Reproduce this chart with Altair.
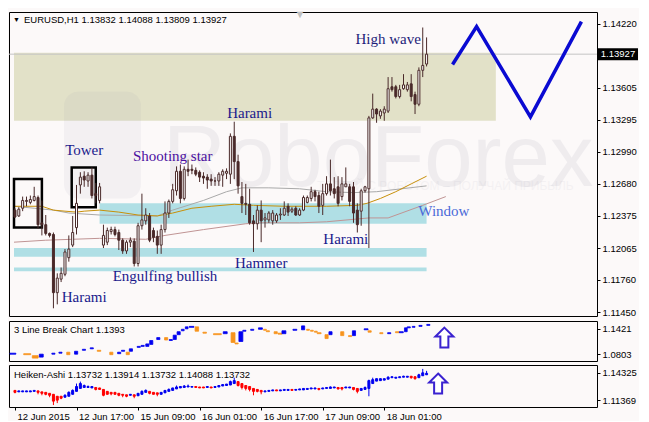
import json
import altair as alt
import pandas as pd

# ---------------- data ----------------
bar_index = list(range(108))

opens = [
    1.12429, 1.12373, 1.12447, 1.12513, 1.12503, 1.12522, 1.12550, 1.12307, 1.12289, 1.12205,
    1.12195, 1.11636, 1.11766, 1.11813, 1.11972, 1.12093, 1.12261, 1.12671, 1.12755, 1.12709,
    1.12765, 1.12587, 1.12522, 1.12093, 1.12121, 1.12223, 1.12242, 1.12214, 1.12140, 1.12037,
    1.12121, 1.12130, 1.11916, 1.12279, 1.12326, 1.12373, 1.12233, 1.12177, 1.12093, 1.12242,
    1.12401, 1.12513, 1.12615, 1.12802, 1.12541, 1.12821, 1.12821, 1.12811, 1.12793, 1.12755,
    1.12746, 1.12727, 1.12709, 1.12709, 1.12765, 1.12783, 1.12774, 1.13138, 1.12895, 1.12559,
    1.12494, 1.12485, 1.12326, 1.12298, 1.12429, 1.12335, 1.12335, 1.12326, 1.12326, 1.12382,
    1.12382, 1.12466, 1.12419, 1.12447, 1.12382, 1.12429, 1.12503, 1.12541, 1.12606, 1.12569,
    1.12475, 1.12587, 1.12681, 1.12634, 1.12653, 1.12559, 1.12653, 1.12653, 1.12653, 1.12429,
    1.12419, 1.12615, 1.12634, 1.13315, 1.13399, 1.13334, 1.13362, 1.13380, 1.13614, 1.13614,
    1.13520, 1.13595, 1.13586, 1.13642, 1.13539, 1.13446, 1.13772, 1.13832]
highs = [
    1.12447, 1.12457, 1.12559, 1.12559, 1.12569, 1.12653, 1.12569, 1.12522, 1.12382, 1.12214,
    1.12214, 1.11822, 1.11878, 1.12055, 1.12186, 1.12373, 1.12671, 1.12793, 1.12802, 1.12793,
    1.12839, 1.12690, 1.12690, 1.12289, 1.12261, 1.12270, 1.12270, 1.12242, 1.12158, 1.12140,
    1.12167, 1.12158, 1.12307, 1.12587, 1.12447, 1.12401, 1.12261, 1.12233, 1.12289, 1.12513,
    1.12531, 1.12681, 1.12849, 1.12867, 1.12849, 1.12914, 1.12867, 1.12839, 1.12811, 1.12793,
    1.12774, 1.12774, 1.12746, 1.12793, 1.12821, 1.12830, 1.13166, 1.13278, 1.12961, 1.12699,
    1.12681, 1.12634, 1.12382, 1.12475, 1.12522, 1.12401, 1.12419, 1.12429, 1.12401, 1.12447,
    1.12513, 1.12494, 1.12457, 1.12466, 1.12447, 1.12569, 1.12569, 1.12653, 1.12625, 1.12606,
    1.12681, 1.12755, 1.12914, 1.12746, 1.12755, 1.12746, 1.12839, 1.12681, 1.12699, 1.12494,
    1.12634, 1.12662, 1.13334, 1.13548, 1.13408, 1.13399, 1.13427, 1.13707, 1.13707, 1.13632,
    1.13632, 1.13735, 1.13660, 1.13735, 1.13567, 1.13800, 1.14183, 1.14088]
lows = [
    1.12354, 1.12363, 1.12419, 1.12466, 1.12485, 1.12513, 1.12251, 1.12186, 1.12186, 1.12167,
    1.11486, 1.11524, 1.11738, 1.11794, 1.11934, 1.12074, 1.12195, 1.12587, 1.12653, 1.12653,
    1.12541, 1.12494, 1.12494, 1.12065, 1.12093, 1.12195, 1.12177, 1.12046, 1.12009, 1.12009,
    1.12074, 1.11888, 1.11888, 1.12242, 1.12289, 1.12121, 1.12121, 1.12009, 1.12009, 1.12214,
    1.12354, 1.12494, 1.12569, 1.12494, 1.12522, 1.12755, 1.12774, 1.12755, 1.12699, 1.12681,
    1.12634, 1.12662, 1.12662, 1.12662, 1.12653, 1.12727, 1.12681, 1.12727, 1.12587, 1.12401,
    1.12382, 1.12289, 1.12027, 1.12242, 1.12121, 1.12261, 1.12307, 1.12289, 1.12307, 1.12335,
    1.12373, 1.12373, 1.12401, 1.12373, 1.12373, 1.12419, 1.12494, 1.12513, 1.12513, 1.12401,
    1.12382, 1.12569, 1.12569, 1.12541, 1.12466, 1.12522, 1.12653, 1.12466, 1.12307, 1.12214,
    1.12279, 1.12597, 1.12065, 1.13306, 1.13268, 1.13306, 1.13287, 1.13362, 1.13567, 1.13502,
    1.13502, 1.13586, 1.13567, 1.13474, 1.13352, 1.13427, 1.13707, 1.13809]
closes = [
    1.12363, 1.12438, 1.12522, 1.12522, 1.12531, 1.12559, 1.12289, 1.12289, 1.12205, 1.12186,
    1.11636, 1.11776, 1.11822, 1.12027, 1.12055, 1.12214, 1.12494, 1.12746, 1.12718, 1.12765,
    1.12569, 1.12569, 1.12653, 1.12186, 1.12233, 1.12242, 1.12195, 1.12140, 1.12037, 1.12121,
    1.12140, 1.11916, 1.12279, 1.12335, 1.12382, 1.12140, 1.12167, 1.12093, 1.12242, 1.12401,
    1.12513, 1.12625, 1.12802, 1.12541, 1.12821, 1.12802, 1.12811, 1.12774, 1.12746, 1.12737,
    1.12718, 1.12709, 1.12709, 1.12774, 1.12802, 1.12802, 1.13138, 1.12895, 1.12662, 1.12494,
    1.12485, 1.12307, 1.12298, 1.12429, 1.12326, 1.12354, 1.12401, 1.12401, 1.12382, 1.12391,
    1.12447, 1.12410, 1.12438, 1.12382, 1.12429, 1.12550, 1.12550, 1.12606, 1.12559, 1.12466,
    1.12587, 1.12681, 1.12615, 1.12587, 1.12494, 1.12681, 1.12681, 1.12513, 1.12401, 1.12289,
    1.12615, 1.12653, 1.13315, 1.13399, 1.13352, 1.13380, 1.13399, 1.13595, 1.13586, 1.13520,
    1.13586, 1.13632, 1.13632, 1.13520, 1.13446, 1.13772, 1.13819, 1.13927]

# moving averages (vertices)
ma_gold_i = [-0.25, 7, 10, 13, 16, 18, 22, 27, 32, 37, 41, 46, 51, 57, 62, 70, 81, 89, 91.5, 95, 99, 103, 107]
ma_gold_p = [1.12466, 1.12466, 1.12429, 1.12419, 1.12410, 1.12419, 1.12429, 1.12410, 1.12382, 1.12373,
             1.12401, 1.12447, 1.12466, 1.12485, 1.12475, 1.12466, 1.12466, 1.12475, 1.12494, 1.12541,
             1.12606, 1.12681, 1.12755]
ma_gray_i = [-0.25, 5, 10, 14, 22, 37, 41, 49, 55, 59, 66, 74, 81, 88, 94, 107]
ma_gray_p = [1.12466, 1.12447, 1.12429, 1.12401, 1.12382, 1.12373, 1.12429, 1.12522, 1.12606, 1.12643,
             1.12643, 1.12634, 1.12606, 1.12597, 1.12606, 1.12662]
ma_rose_i = [-0.25, 8, 22, 34, 39, 49, 60, 64, 74, 81, 92, 97, 106, 112]
ma_rose_p = [1.12121, 1.12140, 1.12158, 1.12149, 1.12186, 1.12242, 1.12298, 1.12307, 1.12307, 1.12317,
             1.12354, 1.12354, 1.12475, 1.12559]

# zones
zone_x0 = [-0.25, 22, -0.25, -0.25]
zone_x1 = [125, 107, 107, 107]
zone_top = [1.13940, 1.12494, 1.12065, 1.11878]
zone_bot = [1.13287, 1.12298, 1.11981, 1.11841]
zone_col = ["#e2e1c8", "#b0dfe5", "#b0dfe5", "#b0dfe5"]

# "Tower" boxes
box_x0 = [-0.25, 14.75]
box_x1 = [7, 21]
box_top = [1.12727, 1.12839]
box_bot = [1.12261, 1.12457]

# pattern labels
lab_text = ["Tower", "Shooting star", "Harami", "High wave", "Harami",
            "Engulfing bullish", "Hammer", "Harami", "Window"]
lab_i = [18, 41, 61, 97, 18, 39, 64, 86, 111.5]
lab_p = [1.13007, 1.12951, 1.13362, 1.14071, 1.11598, 1.11794, 1.11925, 1.12149, 1.12419]
lab_col = ["#1a1a8c", "#4b0fa0", "#1a1a8c", "#1e1e7a", "#1a1a8c",
           "#1a1a8c", "#1a1a8c", "#1a1a8c", "#4a6ad8"]

# forecast zigzag
zz_i = [113.75, 120, 134, 147.25]
zz_p = [1.13828, 1.14192, 1.13324, 1.14239]

current_price = [1.13927]
main_ticks = [1.14220, 1.13605, 1.13295, 1.12990, 1.12680, 1.12375, 1.12065, 1.11760, 1.11450]
header_text = ["EURUSD,H1  1.13832 1.14088 1.13809 1.13927"]
watermark_text = ["RoboForex", "ТОРГУЙ С РОБОТОМ – ПОЛУЧАЙ ПРИБЫЛЬ"]

# 3 Line Break segments
lb_x0 = [0, 3.5, 5.7, 7.5, 10.7, 12.5, 14.5, 16.5, 18.5, 20.5, 22.3, 25.5, 27.5, 28.5, 29.7, 30.5,
         32.5, 33.5, 34.7, 35.7, 37.5, 39.5, 40.7, 41.7, 42.7, 43.8, 44.8, 45.8, 47.3, 49.3, 52, 54.5,
         56.5, 57.5, 58.5, 59.5, 61.5, 63.5, 64.8, 65.5, 67.5, 68.5, 69.5, 72.3, 74.5, 75.8, 76.8, 77.8,
         78.5, 80.5, 81.5, 84.5, 86.5, 87.5, 90.5, 91.5, 94.5, 96.5, 98.5, 99.5, 100.8, 101.5, 102.8,
         104.5, 106.5]
lb_x1 = [1.5, 5.3, 7.2, 8.5, 11.5, 13.3, 15.3, 17.3, 19.3, 21.3, 23.2, 26.3, 28.3, 29.3, 30.5, 31.3,
         33.3, 34.3, 35.5, 36.5, 38.3, 40.3, 41.5, 42.5, 43.5, 44.5, 45.5, 47, 48.2, 50.2, 54, 55.5,
         57.5, 58.3, 59.5, 60.3, 62.3, 64.5, 65.5, 66.3, 68.3, 69.5, 70.5, 73.3, 75.3, 76.5, 77.5, 78.5,
         79.5, 81.3, 82.3, 85.3, 87.3, 88.3, 91.5, 92.3, 95.3, 97.3, 99.5, 100.5, 101.5, 102.3, 103.5,
         105.3, 107.3]
lb_hi = [1.0827, 1.0815, 1.0767, 1.0803, 1.0827, 1.0851, 1.0851, 1.0874, 1.0922, 1.0958, 1.0898, 1.0851,
         1.0851, 1.0898, 1.0851, 1.0934, 1.0993, 1.1017, 1.1053, 1.1136, 1.1207, 1.1207, 1.1160, 1.1266,
         1.1350, 1.1409, 1.1469, 1.1480, 1.1469, 1.1338, 1.1302, 1.1350, 1.1326, 1.1076, 1.1350, 1.1385,
         1.1409, 1.1445, 1.1409, 1.1373, 1.1350, 1.1314, 1.1373, 1.1409, 1.1492, 1.1409, 1.1385, 1.1362,
         1.1326, 1.1278, 1.1350, 1.1350, 1.1255, 1.1373, 1.1421, 1.1373, 1.1326, 1.1326, 1.1350, 1.1350,
         1.1445, 1.1469, 1.1480, 1.1504, 1.1528]
lb_lo = [1.0803, 1.0791, 1.0708, 1.0732, 1.0803, 1.0827, 1.0791, 1.0803, 1.0898, 1.0934, 1.0874, 1.0791,
         1.0815, 1.0874, 1.0791, 1.0874, 1.0969, 1.0993, 1.0993, 1.1041, 1.1160, 1.1148, 1.1136, 1.1160,
         1.1278, 1.1373, 1.1421, 1.1457, 1.1362, 1.1314, 1.1278, 1.1302, 1.1088, 1.1053, 1.1112, 1.1362,
         1.1385, 1.1409, 1.1385, 1.1350, 1.1302, 1.1290, 1.1302, 1.1385, 1.1397, 1.1385, 1.1362, 1.1338,
         1.1302, 1.1183, 1.1278, 1.1255, 1.1231, 1.1255, 1.1397, 1.1338, 1.1302, 1.1302, 1.1326, 1.1326,
         1.1350, 1.1445, 1.1457, 1.1480, 1.1504]
lb_dir = list("boobbbobbb" "oobbobbbbb" "bobbbbbboo" "oboobbbboo" "oobbbooooo" "boobboobob" "bbbbb")
lb_ticks = [1.1421, 1.0803]

# Heiken-Ashi
ha_top = [
    1.12425, 1.12372, 1.12372, 1.12372, 1.12372, 1.12425, 1.12372, 1.12266, 1.12214, 1.12108,
    1.12002, 1.11791, 1.11791, 1.11897, 1.12214, 1.12425, 1.12847, 1.13164, 1.12953, 1.12847,
    1.12847, 1.12741, 1.12689, 1.12530, 1.12319, 1.12214, 1.12214, 1.12108, 1.12002, 1.11950,
    1.12002, 1.11950, 1.12108, 1.12319, 1.12425, 1.12319, 1.12214, 1.12161, 1.12214, 1.12425,
    1.12530, 1.12689, 1.12794, 1.12847, 1.12900, 1.12900, 1.12847, 1.12847, 1.12794, 1.12794,
    1.12847, 1.12794, 1.12847, 1.12953, 1.13058, 1.13111, 1.13375, 1.13481, 1.13375, 1.13164,
    1.12953, 1.12847, 1.12636, 1.12530, 1.12425, 1.12372, 1.12425, 1.12477, 1.12477, 1.12477,
    1.12530, 1.12530, 1.12530, 1.12530, 1.12583, 1.12636, 1.12636, 1.12689, 1.12689, 1.12636,
    1.12689, 1.12741, 1.12794, 1.12794, 1.12741, 1.12741, 1.12794, 1.12794, 1.12741, 1.12636,
    1.12636, 1.12741, 1.13481, 1.13586, 1.13692, 1.13692, 1.13692, 1.13850, 1.13903, 1.13850,
    1.13903, 1.13955, 1.13955, 1.13955, 1.13903, 1.14114, 1.14325, 1.14272]
ha_bot = [
    1.12214, 1.12266, 1.12266, 1.12266, 1.12266, 1.12319, 1.12214, 1.12108, 1.12002, 1.11897,
    1.11263, 1.11369, 1.11580, 1.11686, 1.11791, 1.12002, 1.12319, 1.12636, 1.12741, 1.12741,
    1.12689, 1.12530, 1.12530, 1.11897, 1.12002, 1.12055, 1.12002, 1.11897, 1.11897, 1.11791,
    1.11897, 1.11791, 1.11844, 1.12002, 1.12214, 1.12108, 1.12002, 1.12002, 1.12002, 1.12161,
    1.12319, 1.12425, 1.12583, 1.12689, 1.12741, 1.12794, 1.12773, 1.12741, 1.12689, 1.12689,
    1.12741, 1.12689, 1.12741, 1.12794, 1.12900, 1.12953, 1.13005, 1.13164, 1.12953, 1.12741,
    1.12636, 1.12530, 1.12319, 1.12319, 1.12266, 1.12266, 1.12319, 1.12372, 1.12372, 1.12372,
    1.12425, 1.12425, 1.12425, 1.12446, 1.12477, 1.12477, 1.12530, 1.12583, 1.12583, 1.12530,
    1.12583, 1.12636, 1.12636, 1.12689, 1.12583, 1.12583, 1.12689, 1.12689, 1.12530, 1.12319,
    1.12425, 1.12530, 1.12636, 1.13164, 1.13428, 1.13481, 1.13533, 1.13639, 1.13797, 1.13744,
    1.13797, 1.13850, 1.13850, 1.13797, 1.13692, 1.13797, 1.14008, 1.14114]
ha_wick_hi = {13: 1.12002, 14: 1.12319, 15: 1.12530, 16: 1.13164, 17: 1.13375, 18: 1.13058, 19: 1.12953,
              33: 1.12425, 34: 1.12530, 40: 1.12636, 42: 1.12953, 44: 1.13005, 45: 1.13058, 56: 1.13481,
              57: 1.13797, 82: 1.12847, 91: 1.12847, 92: 1.13586, 93: 1.13797, 97: 1.13955, 101: 1.14008,
              105: 1.14219, 106: 1.14747, 107: 1.14536}
ha_wick_lo = {0: 1.12108, 6: 1.12002, 7: 1.11897, 8: 1.11897, 9: 1.11686, 10: 1.10841, 11: 1.11052,
              12: 1.11475, 21: 1.12425, 23: 1.11791, 25: 1.11897, 27: 1.11791, 28: 1.11686, 29: 1.11686,
              31: 1.11580, 35: 1.12002, 37: 1.11791, 58: 1.12847, 59: 1.12530, 60: 1.12425, 61: 1.12319,
              62: 1.11897, 63: 1.12214, 64: 1.12002, 79: 1.12425, 84: 1.12530, 85: 1.12425, 88: 1.12425,
              89: 1.12108, 92: 1.11791, 103: 1.13692, 104: 1.13586}
ha_dir = list("r" "bbbbb" "rrrrrrr" "bbbbbbbb" "rrrrrrrrr" "b" "r" "bbb" "rrr" "bbbbbbbbb" "rrr" "b" "r"
              "bbbbbb" "rrrrrrr" "bbb" "r" "bbb" "r" "bbbbbb" "r" "bbbb" "rr" "bb" "rr" "bbbbbbbbbbbbb"
              "rr" "bbb")
ha_ticks = [1.14325, 1.11369]

panel_titles = ["3 Line Break Chart 1.1393",
                "Heiken-Ashi 1.13732 1.13914 1.13732 1.14088 1.13732"]
arrow_i = [111, 110]
arrow_v = [1.1207, 1.13164]

x_ticks = [0, 16, 32, 48, 64, 80, 96]
x_labels = ["12 Jun 2015", "12 Jun 17:00", "15 Jun 09:00", "16 Jun 01:00",
            "16 Jun 17:00", "17 Jun 09:00", "18 Jun 01:00"]

# ---------------- styling ----------------
W = 588
H_MAIN, H_LB, H_HA = 304, 40, 42
UI = "Liberation Sans"
SERIF = "Liberation Serif"
DARK = "#4a2a2a"
BG = "#fcf9f9"
BOX_PATH = "M-1,-0.3 L1,-0.3 L1,0.3 L-1,0.3 Z"
ARROW_PATH = "M0,-1 L0.9,-0.1 L0.4,-0.1 L0.4,1 L-0.4,1 L-0.4,-0.1 L-0.9,-0.1 Z"

XS = alt.Scale(domain=[-0.25, 150], nice=False, zero=False)


def XQ(f, axis=None):
    return alt.X(f"{f}:Q", scale=XS, axis=axis)


def yaxis(values, fmt):
    return alt.Axis(orient="right", values=values, format=fmt, title=None, grid=False,
                    domain=False, tickSize=3, tickColor="black", labelColor="black",
                    labelFont=UI, labelFontSize=9.5, labelPadding=2)


YS_M = alt.Scale(domain=[1.11412, 1.14332], nice=False, zero=False)
YA_M = yaxis(main_ticks, ".5f")


def YM(f):
    return alt.Y(f"{f}:Q", scale=YS_M, axis=YA_M)


# ---------------- main panel ----------------
candles = pd.DataFrame({"i": bar_index, "o": opens, "h": highs, "l": lows, "c": closes})
zones = pd.DataFrame({"x0": zone_x0, "x1": zone_x1, "top": zone_top, "bot": zone_bot, "col": zone_col})
boxes = pd.DataFrame({"x0": box_x0, "x1": box_x1, "top": box_top, "bot": box_bot})
labels = pd.DataFrame({"i": lab_i, "p": lab_p, "t": lab_text, "col": lab_col})
zz = pd.DataFrame({"i": zz_i, "p": zz_p})
cur = pd.DataFrame({"p": current_price, "t": ["%.5f" % v for v in current_price]})
wm = pd.DataFrame({"i": [38.5], "p": [1.12662], "t": [watermark_text[0]]})
wm_logo = pd.DataFrame({"x0": [12.75], "x1": [32.75], "top": [1.13567], "bot": [1.12541]})
wm_sub = pd.DataFrame({"i": [145.25], "p": [1.12620], "t": [watermark_text[1]]})
head = pd.DataFrame({"t": header_text})

zone_layer = alt.Chart(zones).mark_rect().encode(
    x=XQ("x0"), x2="x1:Q", y=YM("top"), y2="bot:Q", color=alt.Color("col:N", scale=None))
logo_layer = alt.Chart(wm_logo).mark_rect(cornerRadius=14, color="#8a8aa0", opacity=0.08).encode(
    x=XQ("x0"), x2="x1:Q", y=YM("top"), y2="bot:Q")
wm_layer = alt.Chart(wm).mark_text(font=UI, fontSize=87, align="left", baseline="alphabetic",
                                   color="#8a8aa0", opacity=0.11, clip=True).encode(
    x=XQ("i"), y=YM("p"), text="t:N")
wm_sub_layer = alt.Chart(wm_sub).mark_text(font=UI, fontSize=12, align="right", baseline="alphabetic",
                                           color="#8a8aa0", opacity=0.07).encode(
    x=XQ("i"), y=YM("p"), text="t:N")
price_line = alt.Chart(cur).mark_rule(color="#c4c4c4", strokeWidth=1).encode(y=YM("p"))


def ma_layer(xi, yp, color):
    return alt.Chart(pd.DataFrame({"i": xi, "p": yp})).mark_line(color=color, strokeWidth=1).encode(
        x=XQ("i"), y=YM("p"))


ma_rose = ma_layer(ma_rose_i, ma_rose_p, "#c09494")
ma_gray = ma_layer(ma_gray_i, ma_gray_p, "#a9a9a9")
ma_gold = ma_layer(ma_gold_i, ma_gold_p, "#c8900a")

box_layer = alt.Chart(boxes).mark_rect(fillOpacity=0, stroke="black", strokeWidth=2.5).encode(
    x=XQ("x0"), x2="x1:Q", y=YM("top"), y2="bot:Q")
wick_layer = alt.Chart(candles).mark_rule(color=DARK, strokeWidth=1).encode(
    x=XQ("i"), y=YM("l"), y2="h:Q")
body_layer = alt.Chart(candles).mark_bar(width=2, stroke=DARK, strokeWidth=1, orient="vertical").encode(
    x=XQ("i"), y=YM("o"), y2="c:Q",
    fill=alt.condition("datum.c >= datum.o", alt.value("#ffffff"), alt.value(DARK)))
zz_layer = alt.Chart(zz).mark_line(color="#0a0ad2", strokeWidth=3.5).encode(x=XQ("i"), y=YM("p"))
label_layer = alt.Chart(labels).mark_text(font=SERIF, fontSize=15, align="center", baseline="middle").encode(
    x=XQ("i"), y=YM("p"), text="t:N", color=alt.Color("col:N", scale=None))
head_tri = alt.Chart(head).mark_text(text="▼", font=UI, fontSize=7, align="left", baseline="middle",
                                     color="black").encode(x=alt.value(4), y=alt.value(8))
head_layer = alt.Chart(head).mark_text(font=UI, fontSize=9.5, align="left", baseline="middle",
                                       color="black").encode(x=alt.value(15), y=alt.value(8), text="t:N")
top_tri = alt.Chart(head).mark_text(text="▼", font=UI, fontSize=11, align="center", baseline="middle",
                                    color="#c0c0c0").encode(x=alt.value(291), y=alt.value(3))
box_mark = alt.Chart(cur).mark_point(shape=BOX_PATH, size=1600, filled=True, color="black",
                                     opacity=1).encode(x=alt.value(W + 21), y=YM("p"))
box_text = alt.Chart(cur).mark_text(font=UI, fontSize=9.5, color="white", align="center",
                                    baseline="middle").encode(x=alt.value(W + 21), y=YM("p"), text="t:N")

main = alt.layer(
    zone_layer, logo_layer, wm_layer, wm_sub_layer, price_line, ma_rose, ma_gray, ma_gold,
    box_layer, wick_layer, body_layer, zz_layer, label_layer, head_tri, head_layer, top_tri,
    box_mark, box_text
).properties(width=W, height=H_MAIN)

# ---------------- 3 Line Break panel ----------------
YS_LB = alt.Scale(domain=[1.0637, 1.1611], nice=False, zero=False)
YA_LB = yaxis(lb_ticks, ".4f")
lb_df = pd.DataFrame({"x0": lb_x0, "x1": lb_x1, "hi": lb_hi, "lo": lb_lo, "d": lb_dir})
dir_color = alt.Color("d:N", scale=alt.Scale(domain=["b", "o", "r"],
                                             range=["#0000f0", "#f7941d", "#ff0000"]), legend=None)
lb_rects = alt.Chart(lb_df).mark_rect(strokeWidth=0.8).encode(
    x=XQ("x0"), x2="x1:Q", y=alt.Y("hi:Q", scale=YS_LB, axis=YA_LB), y2="lo:Q",
    color=dir_color, stroke=dir_color)
lb_arrow = alt.Chart(pd.DataFrame({"i": [arrow_i[0]], "v": [arrow_v[0]]})).mark_point(
    shape=ARROW_PATH, size=400, filled=False, fill="white", fillOpacity=1, stroke="#3a22d0",
    strokeWidth=2, opacity=1).encode(x=XQ("i"), y=alt.Y("v:Q", scale=YS_LB, axis=YA_LB))
lb_title = alt.Chart(pd.DataFrame({"t": [panel_titles[0]]})).mark_text(
    font=UI, fontSize=9.5, align="left", baseline="middle", color="black").encode(
    x=alt.value(5), y=alt.value(9), text="t:N")
lb_panel = alt.layer(lb_rects, lb_arrow, lb_title).properties(width=W, height=H_LB)

# ---------------- Heiken-Ashi panel ----------------
YS_HA = alt.Scale(domain=[1.10630, 1.15170], nice=False, zero=False)
YA_HA = yaxis(ha_ticks, ".5f")
XA = alt.Axis(values=x_ticks, labelExpr=f"{json.dumps(x_labels)}[indexof({json.dumps(x_ticks)}, datum.value)]",
              orient="bottom", title=None, grid=False, domain=False, tickSize=3, tickColor="black",
              labelAlign="left", labelOffset=2, labelPadding=1, labelFont=UI, labelFontSize=9.5,
              labelColor="black", labelOverlap=False, labelFlush=False)
ha_df = pd.DataFrame({
    "i": bar_index, "top": ha_top, "bot": ha_bot,
    "wh": [ha_wick_hi.get(k, ha_top[k]) for k in bar_index],
    "wl": [ha_wick_lo.get(k, ha_bot[k]) for k in bar_index],
    "d": ha_dir})
ha_wicks = alt.Chart(ha_df).mark_rule(strokeWidth=1).encode(
    x=XQ("i", XA), y=alt.Y("wl:Q", scale=YS_HA, axis=YA_HA), y2="wh:Q", color=dir_color)
ha_bodies = alt.Chart(ha_df).mark_bar(width=2, strokeWidth=1, orient="vertical").encode(
    x=XQ("i", XA), y=alt.Y("bot:Q", scale=YS_HA, axis=YA_HA), y2="top:Q", color=dir_color,
    stroke=dir_color)
ha_arrow = alt.Chart(pd.DataFrame({"i": [arrow_i[1]], "v": [arrow_v[1]]})).mark_point(
    shape=ARROW_PATH, size=400, filled=False, fill="white", fillOpacity=1, stroke="#3a22d0",
    strokeWidth=2, opacity=1).encode(x=XQ("i", XA), y=alt.Y("v:Q", scale=YS_HA, axis=YA_HA))
ha_title = alt.Chart(pd.DataFrame({"t": [panel_titles[1]]})).mark_text(
    font=UI, fontSize=9.5, align="left", baseline="middle", color="black").encode(
    x=alt.value(5), y=alt.value(10), text="t:N")
ha_panel = alt.layer(ha_wicks, ha_bodies, ha_arrow, ha_title).properties(width=W, height=H_HA)

chart = alt.vconcat(main, lb_panel, ha_panel, spacing=2).properties(
    padding=0, background=BG
).configure_view(stroke="black", strokeWidth=1)

chart.save("out.html", embed_options={"renderer": "svg", "actions": False})
